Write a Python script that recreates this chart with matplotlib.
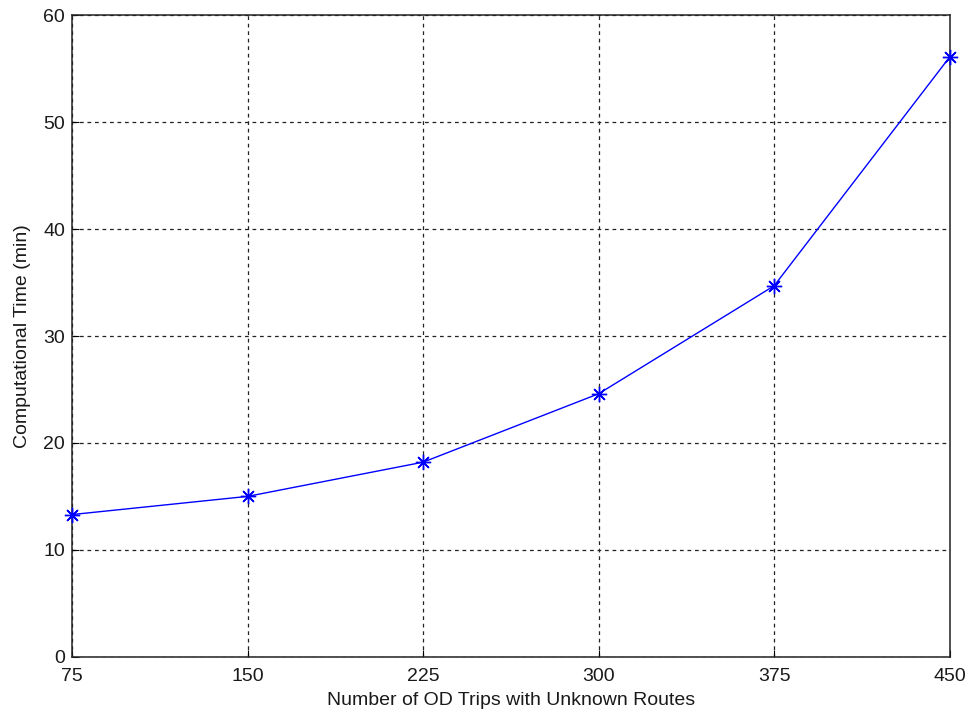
import matplotlib
matplotlib.use("Agg")
import matplotlib.pyplot as plt

trips = [75, 150, 225, 300, 375, 450]
comp_time = [13.3, 15.0, 18.2, 24.6, 34.7, 56.1]
yticks = [0, 10, 20, 30, 40, 50, 60]

plt.rcParams['font.family'] = ['Liberation Sans', 'DejaVu Sans']
fig = plt.figure(figsize=(9.72, 7.15), dpi=100)
ax = fig.add_axes([0.0741, 0.0815, 0.9029, 0.897])
ax.plot(trips, comp_time, color='#0000ff', linewidth=1.0, marker=(8, 2, 0),
        markersize=11, markeredgewidth=1.0, clip_on=False, zorder=5)
ax.set_xlim(75, 450)
ax.set_ylim(0, 60)
ax.set_xticks(trips)
ax.set_yticks(yticks)
ax.grid(True, color='#222222', linestyle=(0, (3, 3)), linewidth=0.9)
ax.tick_params(direction='in', labelsize=14, length=5, top=False, right=False,
               color='black', labelcolor='#1a1a1a')
ax.tick_params(axis='x', pad=8)
ax.tick_params(axis='y', pad=5)
for s in ax.spines.values():
    s.set_linewidth(1.1)
    s.set_color('#222222')
ax.set_xlabel('Number of OD Trips with Unknown Routes', fontsize=14, labelpad=5, color='#1a1a1a')
ax.set_ylabel('Computational Time (min)', fontsize=14, labelpad=9, color='#1a1a1a')
fig.savefig('out.png', dpi=100)
